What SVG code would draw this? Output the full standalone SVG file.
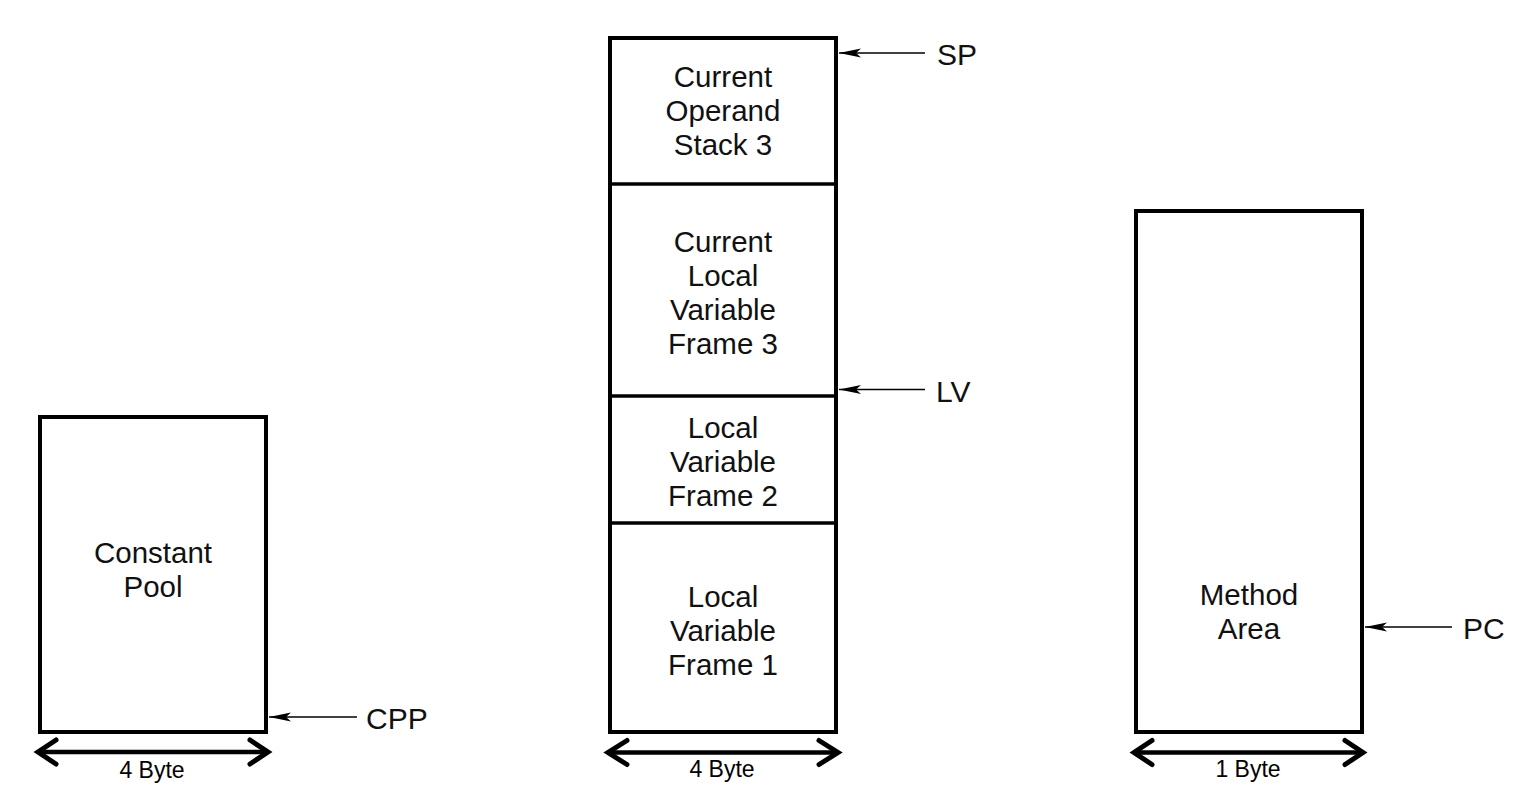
<svg xmlns="http://www.w3.org/2000/svg" width="1528" height="803" viewBox="0 0 1528 803">
<defs>
<style>
.box{fill:#fff;stroke:#000;stroke-width:4}
.div{stroke:#000;stroke-width:3.5}
.t{font-family:"Liberation Sans",Arial,sans-serif;font-size:29.5px;text-anchor:middle;fill:#111}
.lbl{font-family:"Liberation Sans",Arial,sans-serif;font-size:30px;fill:#111}
.w{font-family:"Liberation Sans",Arial,sans-serif;font-size:23px;text-anchor:middle;fill:#000}
.ptr{stroke:#000;stroke-width:1.5;fill:none;marker-end:url(#ah)}
.dim{stroke:#000;stroke-width:4.5;fill:none}
.chev{stroke:#000;stroke-width:5;fill:none;stroke-linejoin:miter;stroke-linecap:round}
</style>
<marker id="ah" viewBox="0 0 22 10" refX="22" refY="5" markerWidth="22" markerHeight="10" markerUnits="userSpaceOnUse" orient="auto">
<path d="M0,0.5 L22,5 L0,9.5 L5,5 Z" fill="#000"/>
</marker>
</defs>

<g id="constant-pool">
<rect class="box" x="40" y="417" width="226" height="315"/>
<text class="t" x="153" y="563">Constant</text>
<text class="t" x="153" y="597">Pool</text>
</g>

<g id="stack">
<rect class="box" x="610" y="38" width="226" height="694"/>
<line class="div" x1="610" y1="184" x2="836" y2="184"/>
<line class="div" x1="610" y1="396" x2="836" y2="396"/>
<line class="div" x1="610" y1="523" x2="836" y2="523"/>
</g>

<g id="operand-stack-3">
<text class="t" x="723" y="87">Current</text>
<text class="t" x="723" y="121">Operand</text>
<text class="t" x="723" y="155">Stack 3</text>
</g>

<g id="local-frame-3">
<text class="t" x="723" y="252">Current</text>
<text class="t" x="723" y="286">Local</text>
<text class="t" x="723" y="320">Variable</text>
<text class="t" x="723" y="354">Frame 3</text>
</g>

<g id="local-frame-2">
<text class="t" x="723" y="438">Local</text>
<text class="t" x="723" y="472">Variable</text>
<text class="t" x="723" y="506">Frame 2</text>
</g>

<g id="local-frame-1">
<text class="t" x="723" y="607">Local</text>
<text class="t" x="723" y="641">Variable</text>
<text class="t" x="723" y="675">Frame 1</text>
</g>

<g id="method-area">
<rect class="box" x="1136" y="211" width="226" height="521"/>
<text class="t" x="1249" y="605">Method</text>
<text class="t" x="1249" y="639">Area</text>
</g>

<g id="labels">
<text class="lbl" x="937" y="65">SP</text>
<text class="lbl" x="936" y="402">LV</text>
<text class="lbl" x="366" y="729">CPP</text>
<text class="lbl" x="1463" y="639">PC</text>
<text class="w" x="152" y="778">4 Byte</text>
<text class="w" x="722" y="777">4 Byte</text>
<text class="w" x="1248" y="777">1 Byte</text>
</g>

<g id="connectors">
<line class="ptr" x1="925" y1="53" x2="839" y2="53"/>
<line class="ptr" x1="925" y1="389.5" x2="839" y2="389.5"/>
<line class="ptr" x1="357" y1="717" x2="269" y2="717"/>
<line class="ptr" x1="1452" y1="627" x2="1365" y2="627"/>

<line class="dim" x1="40" y1="752" x2="266" y2="752"/>
<polyline class="chev" points="56,740 38,752 56,764"/>
<polyline class="chev" points="250,740 268,752 250,764"/>

<line class="dim" x1="610" y1="752.5" x2="836" y2="752.5"/>
<polyline class="chev" points="627,740.5 608,752.5 627,764.5"/>
<polyline class="chev" points="819,740.5 838,752.5 819,764.5"/>

<line class="dim" x1="1135" y1="752.5" x2="1361" y2="752.5"/>
<polyline class="chev" points="1152,740.5 1134,752.5 1152,764.5"/>
<polyline class="chev" points="1345,740.5 1363,752.5 1345,764.5"/>
</g>
</svg>
